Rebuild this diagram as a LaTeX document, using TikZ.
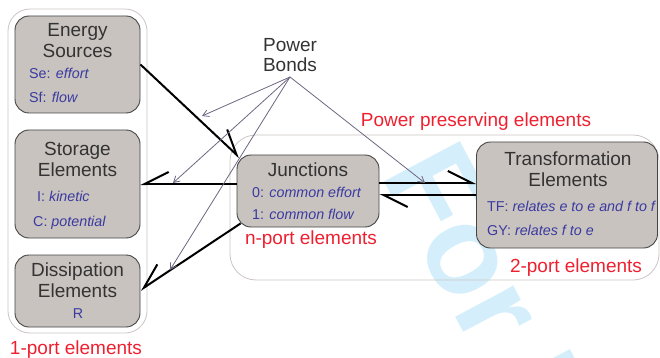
\documentclass[tikz,border=0pt]{standalone}
\usepackage{fontspec}
\setmainfont{Liberation Sans}
\usetikzlibrary{arrows.meta,calc}
\definecolor{boxfill}{HTML}{C9C3C0}
\definecolor{boxdraw}{HTML}{454545}
\definecolor{outerc}{HTML}{CCC4C4}
\definecolor{titlec}{HTML}{333333}
\definecolor{bluet}{HTML}{3A3AA0}
\definecolor{redt}{HTML}{EE2030}
\definecolor{pbc}{HTML}{6E6680}
\definecolor{wmark}{HTML}{D4EFFB}
\begin{document}
\begin{tikzpicture}[x=1pt,y=-1pt,
  elem/.style={draw=boxdraw,fill=boxfill,rounded corners=14pt,line width=0.9pt,inner sep=0pt},
  group/.style={draw=outerc,rounded corners=22pt,line width=0.8pt},
  ttl/.style={anchor=base,text=titlec,font=\fontsize{19}{21}\selectfont,inner sep=0pt},
  lbl/.style={anchor=base west,text=bluet,font=\fontsize{14.3}{16}\selectfont,inner sep=0pt},
  grp/.style={anchor=base,text=redt,font=\fontsize{19}{21}\selectfont,inner sep=0pt},
  bond/.style={line width=2pt,black},
  barbL/.style={bond,-{Straight Barb[harpoon,length=24pt,width=24pt,line width=2pt]}},
  barbR/.style={bond,-{Straight Barb[harpoon,swap,length=24pt,width=24pt,line width=2pt]}},
  pbarrow/.style={draw=pbc,line width=0.8pt,-{Straight Barb[length=6pt,width=7pt,line width=0.8pt]}},
]
\useasboundingbox (0,0) rectangle (660,358);
% watermark
\begin{scope}
\clip (0,0) rectangle (660,358);
\node[rotate=-62,anchor=base west,inner sep=0pt,text=wmark,font=\fontsize{125}{125}\selectfont\bfseries] (wm) at (380,174) {For Peer Review};
\end{scope}
% group frames
\node[group,minimum width=139pt,minimum height=324pt] (g1) at (77.5,171) {};
\node[group,minimum width=429pt,minimum height=145pt,rounded corners=26pt] (g2) at (444.5,207.5) {};
% element boxes
\node[elem,minimum width=125pt,minimum height=97pt] (ES) at (77.5,64.5) {};
\node[elem,minimum width=125pt,minimum height=108pt] (SE) at (77.5,184) {};
\node[elem,minimum width=125pt,minimum height=72pt] (DE) at (77.5,291) {};
\node[elem,minimum width=142pt,minimum height=72pt] (J) at (308,191) {};
\node[elem,minimum width=181pt,minimum height=106pt] (T) at (567,195) {};
% texts
\node[ttl] (es1) at (77.5,37) {Energy};
\node[ttl] (es2) at (77.5,58) {Sources};
\node[lbl] (es3) at (29,79) {Se: \textit{effort}};
\node[lbl] (es4) at (29,103) {Sf: \textit{flow}};
\node[ttl] (se1) at (77.5,155) {Storage};
\node[ttl] (se2) at (77.5,176) {Elements};
\node[lbl] (se3) at (37,201) {I: \textit{kinetic}};
\node[lbl] (se4) at (33,226) {C: \textit{potential}};
\node[ttl] (de1) at (77.5,276) {Dissipation};
\node[ttl] (de2) at (77.5,297) {Elements};
\node[lbl,anchor=base] (de3) at (78,318) {R};
\node[ttl] (j1) at (308,176) {Junctions};
\node[lbl] (j2) at (252,197) {0: \textit{common effort}};
\node[lbl] (j3) at (252,219) {1: \textit{common flow}};
\node[ttl] (t1) at (568,165) {Transformation};
\node[ttl] (t2) at (568,186) {Elements};
\node[lbl] (t3) at (487,211) {TF: \textit{relates e to e and f to f}};
\node[lbl] (t4) at (487,235) {GY: \textit{relates f to e}};
\node[ttl] (pb1) at (290,52) {Power};
\node[ttl] (pb2) at (290,72) {Bonds};
\node[grp] (r1) at (476,127) {Power preserving elements};
\node[grp] (r2) at (311,244) {n-port elements};
\node[grp] (r3) at (576,272) {2-port elements};
\node[grp] (r4) at (76,354) {1-port elements};
% bonds
\draw[barbL] (ES.east) -- ($(J.north west)+(3,3)$);
\draw[barbR] (J.west |- SE.east) -- (SE.east);
\draw[barbR] ($(J.south west)+(4,-4)$) -- (DE.east |- 0,290);
\draw[barbL] (J.east |- 0,183) -- (T.west |- 0,183);
\draw[barbL] (T.west |- 0,195) -- (J.east |- 0,195);
% power bond pointers
\coordinate (pb) at (290,77);
\coordinate (p1) at (202,116);
\coordinate (p2) at (173,183);
\coordinate (p3) at (170,270);
\coordinate (p4) at (425,183);
\draw[pbarrow] (pb) -- (p1);
\draw[pbarrow] (pb) -- (p2);
\draw[pbarrow] (pb) -- (p3);
\draw[pbarrow] (pb) -- (p4);
\end{tikzpicture}
\end{document}
